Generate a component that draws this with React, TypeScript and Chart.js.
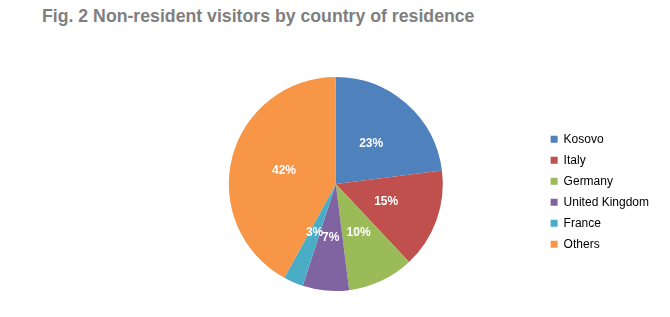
import React, { useEffect, useRef } from "react";
import { Chart, registerables } from "chart.js";

Chart.register(...registerables);

const titleText = "Fig. 2 Non-resident visitors by country of residence";
const categories = ["Kosovo", "Italy", "Germany", "United Kingdom", "France", "Others"];
const shares = [23, 15, 10, 7, 3, 42];
const colors = ["#4F81BD", "#C0504D", "#9BBB59", "#8064A2", "#4BACC6", "#F79646"];

const FONT = "'Liberation Sans Narrow', 'Arial Narrow', 'Liberation Sans', Arial, sans-serif";

const pieLabels = {
  id: "pieLabels",
  afterDatasetsDraw(chart: any) {
    const ctx = chart.ctx;
    const meta = chart.getDatasetMeta(0);
    ctx.save();
    ctx.fillStyle = "#ffffff";
    ctx.font = `bold 12px ${FONT}`;
    ctx.textAlign = "center";
    ctx.textBaseline = "middle";
    meta.data.forEach((arc: any, i: number) => {
      const p = arc.tooltipPosition();
      ctx.fillText(`${shares[i]}%`, p.x, p.y);
    });
    ctx.restore();
  },
};

export default function App() {
  const ref = useRef<HTMLCanvasElement>(null);
  useEffect(() => {
    if (!ref.current) return;
    const chart = new Chart(ref.current, {
      type: "pie",
      data: {
        labels: categories,
        datasets: [
          {
            data: shares,
            backgroundColor: colors,
            borderWidth: 0,
          },
        ],
      },
      options: {
        animation: false,
        responsive: false,
        maintainAspectRatio: false,
        layout: { padding: { left: 130, right: 11, top: 77, bottom: 26 } },
        plugins: {
          title: { display: false },
          tooltip: { enabled: false },
          legend: {
            position: "right",
            align: "center",
            title: { display: true, text: " ", padding: 3, font: { size: 8 } },
            labels: {
              boxWidth: 7,
              boxHeight: 7,
              padding: 9,
              color: "#000000",
              font: { family: FONT, size: 12 },
            },
          },
        },
      },
      plugins: [pieLabels],
    });
    return () => chart.destroy();
  }, []);
  return (
    <div style={{ position: "fixed", left: 0, top: 0, width: 670, height: 317, background: "#fff" }}>
      <div
        style={{
          position: "absolute",
          left: 42,
          top: 5,
          fontFamily: FONT,
          fontWeight: "bold",
          fontSize: 17.7,
          color: "#7F7F7F",
          whiteSpace: "nowrap",
          lineHeight: "22px",
        }}
      >
        {titleText}
      </div>
      <canvas ref={ref} width={670} height={317} style={{ position: "absolute", left: 0, top: 0 }} />
    </div>
  );
}
